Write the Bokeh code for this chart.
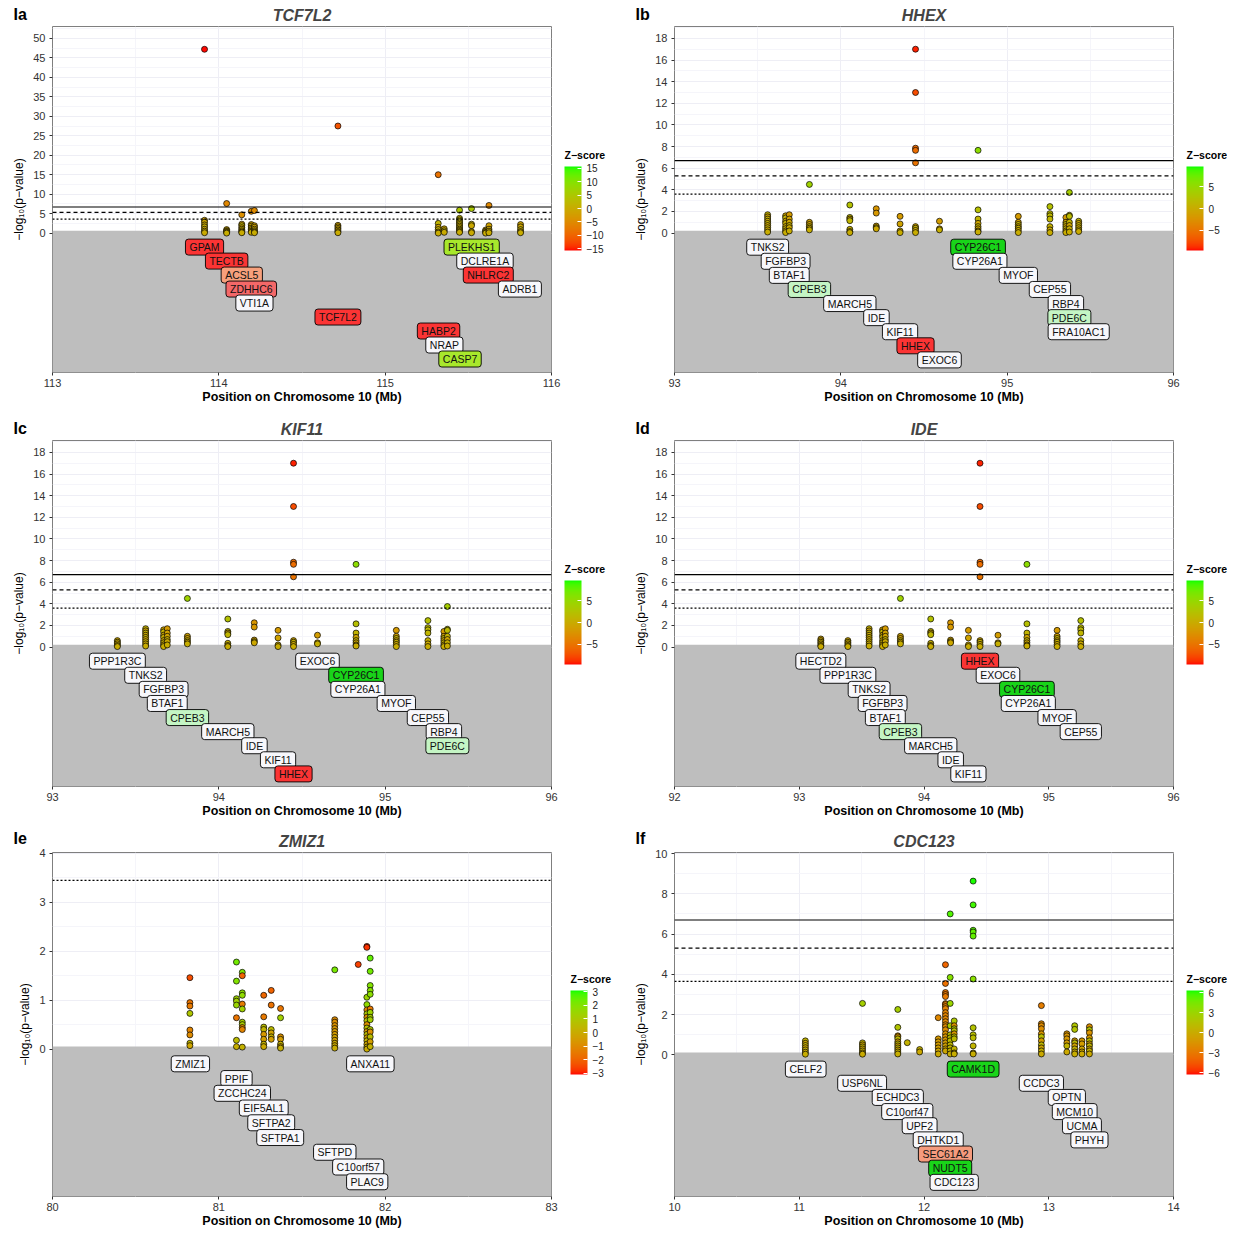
import numpy as np
from bokeh.plotting import figure
from bokeh.models import (ColumnDataSource, Range1d, LinearColorMapper, ColorBar, FixedTicker,
                          Span, BoxAnnotation)
from bokeh.layouts import gridplot
from bokeh.transform import transform
from bokeh.core.properties import value
from bokeh.embed import file_html
from bokeh.resources import INLINE

FONT = "Liberation Sans"
REF_H = 350      # frame height the geometry ratios were measured on
FRAME_H = 346    # frame height actually used

# ------------------------------------------------------------------ data
# Panel Ia : TCF7L2 locus (SNP columns, -log10 p, z)
tcf7l2_snp_pos = [113.914, 114.047, 114.138, 114.195, 114.214, 114.716, 115.319, 115.355,
                  115.447, 115.519, 115.604, 115.624, 115.814]
tcf7l2_logp = [[47.2, 3.3, 2.8, 2.1, 1.6, 1.0, 0.5, 0.1],
               [7.6, 0.9, 0.6, 0.4, 0.2, 0.0],
               [4.7, 2.3, 1.9, 1.4, 1.0, 0.6, 0.3, 0.1],
               [5.6, 2.2, 1.8, 1.3, 0.9, 0.5, 0.2],
               [5.8, 1.9, 1.5, 1.0, 0.6, 0.3, 0.1],
               [27.5, 2.0, 1.6, 1.2, 0.8, 0.4, 0.1],
               [15.0, 2.5, 1.5, 0.9, 0.3, 0.0],
               [1.1, 0.6, 0.2],
               [5.9, 3.8, 3.4, 3.0, 2.6, 2.2, 1.8, 1.4, 1.0, 0.7, 0.4, 0.2],
               [6.3, 2.3, 1.9, 0.4, 0.1],
               [0.8, 0.5, 0.2, 0.0],
               [7.1, 1.9, 1.0, 0.5, 0.1],
               [2.2, 1.6, 0.9, 0.4, 0.1]]
tcf7l2_z = [[-15.4, -1.5, -1.0, -0.6, 0.3, -0.5, 0.2, -0.3],
            [-5.6, -0.8, -0.4, 0.1, -0.2, 0.3],
            [-4.4, -1.5, 1.0, -0.9, 0.5, -0.3, 0.2, -0.1],
            [-4.9, -1.2, -0.8, 0.4, -0.6, 0.2, -0.2],
            [-5.0, -1.4, -1.0, -0.6, 0.3, -0.2, 0.1],
            [-11.5, -1.3, -1.0, -0.8, -0.5, -0.3, -0.1],
            [-8.2, 1.4, -0.9, 0.6, -0.3, 0.1],
            [-0.9, 0.5, -0.2],
            [4.9, 1.5, 1.2, 1.0, 0.8, 0.6, -0.4, 0.5, 0.3, -0.2, 0.4, 0.1],
            [5.2, 1.1, -0.6, 0.3, -0.2],
            [-0.8, -0.5, 0.2, -0.1],
            [-5.4, -1.5, -0.8, -0.3, 0.1],
            [-1.2, -0.9, 0.6, -0.4, 0.2]]
tcf7l2_genes = ["GPAM", "TECTB", "ACSL5", "ZDHHC6", "VTI1A", "TCF7L2", "HABP2", "NRAP", "CASP7",
                "PLEKHS1", "DCLRE1A", "NHLRC2", "ADRB1"]
tcf7l2_gene_pos = [113.914, 114.047, 114.138, 114.195, 114.214, 114.716, 115.321, 115.356, 115.45,
                   115.52, 115.60, 115.62, 115.81]
tcf7l2_gene_row = [1, 2, 3, 4, 5, 6, 7, 8, 9, 1, 2, 3, 4]
tcf7l2_gene_fill = ["#fb3434", "#fb3434", "#f7a07c", "#f46868", "#f7f7fb", "#fb3434", "#fb3434",
                    "#f7f7fb", "#a8e82c", "#a8e82c", "#f7f7fb", "#fb3434", "#f7f7fb"]

# Panels Ib-Id : shared chr10 93-96 Mb locus
hhex_locus_pos = [93.173, 93.39, 93.56, 93.668, 93.69, 93.811, 94.054, 94.213, 94.356, 94.449,
                  94.593, 94.825, 95.067, 95.257, 95.353, 95.374, 95.43]
hhex_locus_logp = [[0.75, 0.6, 0.45, 0.3, 0.15, 0.05],
                   [0.6, 0.45, 0.3, 0.15, 0.05],
                   [1.7, 1.5, 1.3, 1.1, 0.9, 0.7, 0.5, 0.3, 0.1],
                   [1.6, 1.4, 1.1, 0.9, 0.6, 0.4, 0.2, 0.05],
                   [1.7, 1.3, 1.0, 0.7, 0.5, 0.2],
                   [4.5, 1.0, 0.8, 0.6, 0.45, 0.3],
                   [2.6, 1.45, 1.3, 1.15, 0.35, 0.15, 0.05],
                   [2.25, 1.85, 0.65, 0.5, 0.4],
                   [1.55, 0.85, 0.2, 0.05],
                   [17.0, 13.0, 7.85, 7.65, 6.5, 0.6, 0.45, 0.25, 0.05],
                   [1.1, 0.4, 0.3],
                   [7.65, 2.15, 1.3, 0.9, 0.6, 0.4, 0.2, 0.1],
                   [1.55, 1.0, 0.8, 0.6, 0.45, 0.25, 0.05],
                   [2.45, 1.8, 1.6, 1.3, 0.6, 0.3, 0.05],
                   [1.45, 1.0, 0.8, 0.6, 0.4, 0.2, 0.05],
                   [3.75, 1.65, 1.55, 1.0, 0.7, 0.4, 0.1],
                   [1.1, 0.9, 0.7, 0.5, 0.3, 0.15]]
hhex_locus_z = [[-0.8, -0.6, 0.3, -0.4, 0.2, -0.1],
                [-0.5, 0.3, -0.3, 0.2, 0.1],
                [0.5, -0.8, 0.6, -0.3, 0.4, -0.5, 0.2, -0.2, 0.1],
                [-0.6, 0.7, -0.4, 0.3, -0.5, 0.2, -0.3, 0.1],
                [-1.6, -1.0, -0.7, 0.4, -0.3, 0.1],
                [4.3, -0.9, -1.0, 0.4, -0.5, 0.2],
                [2.3, 1.2, -0.9, 1.0, 0.3, -0.2, 0.1],
                [-2.1, -1.9, -0.8, 0.5, -0.4],
                [-1.7, -0.9, -0.3, 0.1],
                [-9.2, -7.6, -5.7, -5.6, -5.1, -0.6, 0.4, -0.2, 0.1],
                [-1.4, -0.6, 0.3],
                [5.6, 2.1, 0.9, -0.7, 0.5, -0.4, 0.2, 0.1],
                [-1.7, -1.0, 0.7, -0.6, 0.4, -0.3, 0.1],
                [2.2, 1.5, 1.3, 1.0, 0.6, -0.3, 0.1],
                [-1.6, -0.9, 0.7, -0.5, 0.4, -0.2, 0.1],
                [3.7, 1.7, 1.6, 0.8, -0.6, 0.3, 0.1],
                [0.8, -0.7, 0.5, -0.4, 0.3, -0.1]]
hhex_locus_genes = ["HECTD2", "PPP1R3C", "TNKS2", "FGFBP3", "BTAF1", "CPEB3", "MARCH5", "IDE", "KIF11",
                    "HHEX", "EXOC6", "CYP26C1", "CYP26A1", "MYOF", "CEP55", "RBP4", "PDE6C", "FRA10AC1"]
hhex_locus_gene_pos = [93.173, 93.39, 93.56, 93.668, 93.69, 93.811, 94.054, 94.214, 94.356, 94.449,
                       94.593, 94.825, 94.836, 95.067, 95.257, 95.353, 95.374, 95.43]
hhex_locus_gene_fill = ["#f7f7fb", "#f7f7fb", "#f7f7fb", "#f7f7fb", "#f7f7fb", "#c4f5c4", "#f7f7fb",
                        "#f7f7fb", "#f7f7fb", "#fb3434", "#f7f7fb", "#19d419", "#f7f7fb", "#f7f7fb",
                        "#f7f7fb", "#f7f7fb", "#c4f5c4", "#f7f7fb"]

# Ib HHEX
hhex_snp_cols = [93.56, 93.668, 93.69, 93.811, 94.054, 94.213, 94.356, 94.449, 94.593, 94.825,
                 95.067, 95.257, 95.353, 95.374, 95.43]
hhex_genes = ["TNKS2", "FGFBP3", "BTAF1", "CPEB3", "MARCH5", "IDE", "KIF11", "HHEX", "EXOC6",
              "CYP26C1", "CYP26A1", "MYOF", "CEP55", "RBP4", "PDE6C", "FRA10AC1"]
hhex_gene_row = [1, 2, 3, 4, 5, 6, 7, 8, 9, 1, 2, 3, 4, 5, 6, 7]
# Ic KIF11
kif11_snp_cols = [93.39, 93.56, 93.668, 93.69, 93.811, 94.054, 94.213, 94.356, 94.449, 94.593,
                  94.825, 95.067, 95.257, 95.353, 95.374]
kif11_genes = ["PPP1R3C", "TNKS2", "FGFBP3", "BTAF1", "CPEB3", "MARCH5", "IDE", "KIF11", "HHEX",
               "EXOC6", "CYP26C1", "CYP26A1", "MYOF", "CEP55", "RBP4", "PDE6C"]
kif11_gene_row = [1, 2, 3, 4, 5, 6, 7, 8, 9, 1, 2, 3, 4, 5, 6, 7]
# Id IDE
ide_snp_cols = [93.173, 93.39, 93.56, 93.668, 93.69, 93.811, 94.054, 94.213, 94.356, 94.449,
                94.593, 94.825, 95.067, 95.257]
ide_genes = ["HECTD2", "PPP1R3C", "TNKS2", "FGFBP3", "BTAF1", "CPEB3", "MARCH5", "IDE", "KIF11",
             "HHEX", "EXOC6", "CYP26C1", "CYP26A1", "MYOF", "CEP55"]
ide_gene_row = [1, 2, 3, 4, 5, 6, 7, 8, 9, 1, 2, 3, 4, 5, 6]

# Ie ZMIZ1
zmiz1_snp_pos = [80.826, 81.106, 81.141, 81.27, 81.315, 81.371, 81.697, 81.838, 81.89, 81.91]
zmiz1_logp = [[1.46, 0.95, 0.88, 0.73, 0.39, 0.29, 0.12, 0.07],
              [1.78, 1.39, 1.03, 0.98, 0.9, 0.64, 0.18, 0.05],
              [1.57, 1.5, 1.15, 1.1, 0.92, 0.82, 0.55, 0.5, 0.44, 0.4, 0.04],
              [1.1, 0.66, 0.45, 0.4, 0.3, 0.2, 0.1, 0.05],
              [1.2, 0.9, 0.4, 0.33, 0.25, 0.2],
              [0.83, 0.64, 0.25, 0.2, 0.1, 0.05, 0.02],
              [1.62, 0.6, 0.55, 0.48, 0.42, 0.36, 0.3, 0.24, 0.18, 0.12, 0.07, 0.02],
              [1.73],
              [2.1, 2.08, 1.06, 0.91, 0.8, 0.72, 0.65, 0.58, 0.5, 0.43, 0.36, 0.3, 0.23, 0.17, 0.1, 0.04, 0.0],
              [1.86, 1.59, 1.3, 1.2, 1.12, 0.82, 0.75, 0.65, 0.6, 0.4, 0.35, 0.25, 0.15, 0.05]]
zmiz1_z = [[-2.4, -1.6, -1.5, 0.9, -1.2, -1.0, 0.3, -0.2],
           [2.3, 2.0, 1.4, 1.3, 1.5, -1.6, 0.5, 0.1],
           [2.1, -2.0, 1.8, 1.7, -1.4, 1.3, 1.2, 1.1, -1.0, -1.2, 0.2],
           [-1.9, -1.5, 0.6, 0.3, -0.6, -0.4, 0.2, -0.1],
           [-2.0, -1.7, 0.5, -0.3, 0.2, -0.4],
           [-1.6, 1.3, -0.8, -0.5, 0.2, -0.3, 0.1],
           [2.2, -1.0, -0.9, -0.8, -0.7, -0.6, -0.5, -0.3, -0.4, -0.2, -0.1, 0.0],
           [-2.6],
           [-2.9, -2.8, 1.5, 1.7, -1.1, 1.0, -0.9, 0.9, -0.8, 0.7, -0.6, 0.5, -0.4, 0.3, -0.2, 0.1, 0.0],
           [2.5, 2.3, 2.0, 1.9, 1.8, -1.5, 1.4, 1.2, 1.2, 1.0, -0.8, 0.6, -0.4, 0.2]]
zmiz1_genes = ["ZMIZ1", "PPIF", "ZCCHC24", "EIF5AL1", "SFTPA2", "SFTPA1", "SFTPD", "C10orf57",
               "PLAC9", "ANXA11"]
zmiz1_gene_pos = [80.829, 81.106, 81.141, 81.27, 81.315, 81.369, 81.697, 81.838, 81.892, 81.911]
zmiz1_gene_row = [1, 2, 3, 4, 5, 6, 7, 8, 9, 1]
zmiz1_gene_fill = ["#f7f7fb"] * 10

# If CDC123
cdc123_snp_pos = [11.049, 11.507, 11.79, 11.866, 11.965, 12.114, 12.172, 12.21, 12.242, 12.394,
                  12.941, 13.145, 13.208, 13.266, 13.326]
cdc123_logp = [[0.7, 0.58, 0.47, 0.36, 0.25, 0.14, 0.04],
               [2.56, 0.6, 0.5, 0.4, 0.3, 0.2, 0.1, 0.04],
               [2.26, 1.37, 0.95, 0.9, 0.8, 0.65, 0.55, 0.45, 0.35, 0.25, 0.15, 0.05],
               [0.61],
               [0.27, 0.15],
               [1.85, 0.8, 0.65, 0.5, 0.35, 0.2, 0.05],
               [4.48, 3.55, 3.1, 3.0, 2.9, 2.55, 2.5, 2.4, 2.3, 2.1, 1.95, 1.8, 1.65, 1.5, 1.4, 1.25,
                1.05, 0.9, 0.75, 0.6, 0.45, 0.3, 0.2],
               [7.0, 3.85, 2.56, 1.45, 1.0, 0.85, 0.7, 0.5, 0.35, 0.2, 0.05],
               [1.69, 1.45, 1.3, 1.2, 1.05, 0.9, 0.8, 0.3, 0.1, 0.05],
               [8.63, 7.45, 6.19, 6.1, 5.9, 3.77, 1.35, 1.0, 0.85, 0.45, 0.1, 0.05],
               [2.45, 1.55, 1.45, 1.3, 1.05, 0.9, 0.7, 0.5, 0.35, 0.2, 0.05],
               [1.05, 0.95, 0.8, 0.6, 0.45, 0.15],
               [1.45, 1.27, 0.7, 0.6, 0.45, 0.3, 0.15, 0.05],
               [0.7, 0.55, 0.3, 0.15, 0.05],
               [1.4, 1.25, 1.1, 0.85, 0.7, 0.55, 0.45, 0.3, 0.2, 0.05]]
cdc123_z = [[0.5, -0.4, 0.3, -0.3, 0.2, -0.1, 0.1],
            [2.5, 0.4, -0.3, 0.3, -0.2, 0.2, -0.1, 0.0],
            [2.4, 1.7, -1.4, -1.3, 0.9, -0.8, 0.7, -0.6, 0.5, -0.4, 0.3, 0.1],
            [0.4],
            [0.3, -0.2],
            [-2.2, -1.2, -1.0, -0.9, -0.7, -0.5, -0.2],
            [-3.9, -3.4, -3.2, -3.1, -3.0, -2.8, -2.8, -2.7, -2.6, -2.5, -2.4, -2.3, -2.2, -2.1,
             -2.0, -1.9, -1.6, -1.4, -1.2, -1.0, -0.7, -0.5, -0.3],
            [5.5, 3.9, 3.0, 2.2, 1.4, 1.2, 1.0, 0.8, 0.6, 0.4, 0.1],
            [1.9, -1.7, 1.5, 1.5, -1.3, 1.2, 1.1, 0.5, -0.2, 0.1],
            [6.2, 5.8, 5.3, 5.2, 5.1, 3.8, 1.6, 1.3, 1.2, 0.6, 0.2, 0.1],
            [-2.8, -2.1, -2.0, -1.9, -1.4, 1.2, -1.0, 0.8, -0.6, 0.3, -0.1],
            [-1.5, -1.4, -1.2, -0.9, 0.6, -0.2],
            [1.8, 1.7, -0.9, 0.8, -0.6, 0.4, -0.2, 0.1],
            [-1.2, -0.9, -0.5, -0.3, -0.1],
            [-1.8, 1.6, -1.5, -1.2, 1.0, -0.8, 0.6, -0.5, 0.3, -0.1]]
cdc123_genes = ["CELF2", "USP6NL", "ECHDC3", "C10orf47", "UPF2", "DHTKD1", "SEC61A2", "NUDT5",
                "CDC123", "CAMK1D", "CCDC3", "OPTN", "MCM10", "UCMA", "PHYH"]
cdc123_gene_pos = [11.052, 11.504, 11.79, 11.866, 11.965, 12.114, 12.172, 12.21, 12.242, 12.394,
                   12.941, 13.145, 13.208, 13.266, 13.326]
cdc123_gene_row = [1, 2, 3, 4, 5, 6, 7, 8, 9, 1, 2, 3, 4, 5, 6]
cdc123_gene_fill = ["#f7f7fb", "#f7f7fb", "#f7f7fb", "#f7f7fb", "#f7f7fb", "#f7f7fb", "#f59b7d",
                    "#19d419", "#f7f7fb", "#19d419", "#f7f7fb", "#f7f7fb", "#f7f7fb", "#f7f7fb",
                    "#f7f7fb"]

# significance thresholds (-log10 p)
thr_solid, thr_dashed = 6.7, 5.3
thr_dotted = {"a": 3.6, "b": 3.6, "c": 3.6, "d": 3.6, "e": 3.45, "f": 3.65}


# ------------------------------------------------------------------ colour scale (red -> green in CIELAB)
_M = np.array([[0.4124564, 0.3575761, 0.1804375],
               [0.2126729, 0.7151522, 0.0721750],
               [0.0193339, 0.1191920, 0.9503041]])
_Minv = np.linalg.inv(_M)
_WHITE = np.array([0.95047, 1.0, 1.08883])


def _f(t):
    return np.where(t > (6 / 29) ** 3, np.cbrt(t), t / (3 * (6 / 29) ** 2) + 4 / 29)


def _finv(t):
    return np.where(t > 6 / 29, t ** 3, 3 * (6 / 29) ** 2 * (t - 4 / 29))


def to_lab(rgb):
    c = np.array(rgb, float) / 255
    lin = np.where(c <= 0.04045, c / 12.92, ((c + 0.055) / 1.055) ** 2.4)
    fx, fy, fz = _f(_M @ lin / _WHITE)
    return np.array([116 * fy - 16, 500 * (fx - fy), 200 * (fy - fz)])


def from_lab(lab):
    L, a, b = lab
    fy = (L + 16) / 116
    xyz = _WHITE * _finv(np.array([fy + a / 500, fy, fy - b / 200]))
    lin = np.clip(_Minv @ xyz, 0, 1)
    c = np.where(lin <= 0.0031308, 12.92 * lin, 1.055 * lin ** (1 / 2.4) - 0.055)
    return "#%02x%02x%02x" % tuple(int(round(v * 255)) for v in np.clip(c, 0, 1))


_lo, _hi = to_lab([255, 0, 0]), to_lab([0, 255, 0])
PALETTE = [from_lab(_lo + (_hi - _lo) * t) for t in np.linspace(0, 1, 256)]


def uminus(v):
    return str(v).replace("-", "\u2212")


def free_text(p, text, x, y, size, style):
    """text placed outside the frame: the title of an invisible horizontal colour bar"""
    cb = ColorBar(color_mapper=LinearColorMapper(palette=["#ffffff"], low=0, high=1),
                  orientation="horizontal", width=2, height=1, location=(x, y),
                  title=text, title_text_font=FONT, title_text_font_style=style,
                  title_text_font_size=f"{size}px", title_text_color="black", title_standoff=0,
                  ticker=FixedTicker(ticks=[]), major_label_text_font_size="1px",
                  major_tick_line_color=None, minor_tick_line_color=None, major_tick_out=0,
                  major_tick_in=0, label_standoff=0, scale_alpha=0,
                  bar_line_color=None, border_line_color=None, background_fill_color=None,
                  background_fill_alpha=0, padding=0, margin=0)
    p.add_layout(cb)


def make_panel(letter, title, xr, xticks, y_top, zero_px, row_px, yticks, yminor, zlim, zticks,
               lines, cols_pos, cols_logp, cols_z, genes, gpos, grow, gfill,
               width, ml, fw, mt, mb):
    y_bot = -y_top * (REF_H - zero_px) / zero_px
    p = figure(width=width, height=mt + FRAME_H + mb, x_range=Range1d(xr[0], xr[1]),
               y_range=Range1d(y_bot, y_top), output_backend="svg", toolbar_location=None,
               min_border_left=ml, min_border_right=width - ml - fw,
               min_border_top=mt, min_border_bottom=mb)
    p.extra_y_ranges = {"rows": Range1d(-(REF_H - zero_px) / row_px, zero_px / row_px)}
    p.background_fill_color = "white"
    p.border_fill_color = "white"
    p.outline_line_color = "#7f7f7f"
    p.outline_line_width = 1

    p.title.text = title
    p.title.align = "center"
    p.title.text_font = FONT
    p.title.text_font_style = "bold italic"
    p.title.text_font_size = "16px"
    p.title.standoff = 6

    xminor = [x + 0.5 for x in xticks[:-1]]
    for ax, ticks, minor in ((p.xaxis[0], xticks, xminor), (p.yaxis[0], yticks, yminor)):
        ax.ticker = FixedTicker(ticks=ticks, minor_ticks=minor)
        ax.axis_line_color = None
        ax.major_tick_line_color = "#333333"
        ax.major_tick_out = 3
        ax.major_tick_in = 0
        ax.minor_tick_line_color = None
        ax.major_label_text_font = FONT
        ax.major_label_text_font_size = "11px"
        ax.major_label_text_color = "#333333"
        ax.major_label_standoff = 3
        ax.axis_label_text_font = FONT
        ax.axis_label_text_color = "black"
    p.xaxis.major_label_standoff = 2
    p.xaxis.axis_label = "Position on Chromosome 10 (Mb)"
    p.xaxis.axis_label_text_font_style = "bold"
    p.xaxis.axis_label_text_font_size = "12.5px"
    p.xaxis.axis_label_standoff = 0
    p.yaxis.axis_label = "\u2212log\u2081\u2080(p\u2212value)"
    p.yaxis.axis_label_text_font_style = "normal"
    p.yaxis.axis_label_text_font_size = "12px"
    p.yaxis.axis_label_standoff = 4

    for g, ticks, minor in ((p.xgrid[0], xticks, xminor), (p.ygrid[0], yticks, yminor)):
        g.ticker = FixedTicker(ticks=ticks, minor_ticks=minor)
        g.grid_line_color = "#eeeef5"
        g.grid_line_width = 1
        g.minor_grid_line_color = "#f5f5fa"
        g.minor_grid_line_width = 1

    # grey label area
    p.add_layout(BoxAnnotation(top=2.5 / row_px, y_range_name="rows", fill_color="#bebebe",
                               fill_alpha=1, line_color=None, level="underlay"))

    for loc, dash in lines:
        p.add_layout(Span(location=loc, dimension="width", line_color="black",
                          line_width=1.2, line_dash=dash))

    xs, ys, zs = [], [], []
    for pos, lp, zz in zip(cols_pos, cols_logp, cols_z):
        for a, b in zip(lp, zz):
            xs.append(pos)
            ys.append(a)
            zs.append(b)
    mapper = LinearColorMapper(palette=PALETTE, low=-zlim, high=zlim)
    src = ColumnDataSource(dict(x=xs, y=ys, z=zs))
    p.scatter("x", "y", source=src, size=6, fill_color=transform("z", mapper),
              line_color="black", line_width=0.7)

    gsrc = ColumnDataSource(dict(x=gpos, y=[-r for r in grow], text=genes, fill=gfill))
    p.text("x", "y", text="text", source=gsrc, y_range_name="rows",
           text_font=value(FONT), text_font_size="10.5px", text_color="#111111",
           text_align="center", text_baseline="middle",
           background_fill_color="fill", border_line_color="black", border_line_width=0.9,
           padding=(4, 2), border_radius=3)

    bar_bottom, bar_h = 122, 84
    cb = ColorBar(color_mapper=mapper, width=17, height=bar_h, location=(fw + 13, bar_bottom),
                  orientation="vertical", title=None,
                  ticker=FixedTicker(ticks=zticks),
                  major_label_overrides={t: uminus(t) for t in zticks},
                  major_label_text_font=FONT, major_label_text_font_size="10px",
                  major_label_text_color="#222222", label_standoff=5,
                  major_tick_line_color="white", major_tick_in=4, major_tick_out=0,
                  minor_tick_line_color=None, bar_line_color=None, border_line_color=None,
                  background_fill_color=None, background_fill_alpha=0, padding=0, margin=0)
    p.add_layout(cb)

    free_text(p, letter, -39, FRAME_H + 3, 16, "bold")
    free_text(p, "Z\u2212score", fw + 13, bar_bottom + bar_h + 5, 10.5, "bold")
    return p


def pick(cols):
    idx = [hhex_locus_pos.index(c) for c in cols]
    return ([hhex_locus_pos[i] for i in idx], [hhex_locus_logp[i] for i in idx],
            [hhex_locus_z[i] for i in idx])


def pick_genes(names):
    idx = [hhex_locus_genes.index(n) for n in names]
    return [hhex_locus_gene_pos[i] for i in idx], [hhex_locus_gene_fill[i] for i in idx]


L_W, R_W = 616, 611
rows3 = [(26, 38), (30, 34), (32, 32)]
lines3 = lambda k: [(thr_solid, "solid"), (thr_dashed, "4 3"), (thr_dotted[k], "2 2")]

pa = make_panel("Ia", "TCF7L2", (113, 116), [113, 114, 115, 116], 53.05, 209, 14.15,
                list(range(0, 51, 5)), [2.5 + 5 * i for i in range(11)], 15.6,
                [-15, -10, -5, 0, 5, 10, 15], lines3("a"),
                tcf7l2_snp_pos, tcf7l2_logp, tcf7l2_z, tcf7l2_genes, tcf7l2_gene_pos,
                tcf7l2_gene_row, tcf7l2_gene_fill, L_W, 52, 499, *rows3[0])

bp, bl, bz = pick(hhex_snp_cols)
bgp, bgf = pick_genes(hhex_genes)
pb = make_panel("Ib", "HHEX", (93, 96), [93, 94, 95, 96], 19.1, 209, 14.25,
                list(range(0, 19, 2)), list(range(1, 20, 2)), 9.7, [-5, 0, 5], lines3("b"),
                bp, bl, bz, hhex_genes, bgp, hhex_gene_row, bgf, R_W, 58, 499, *rows3[0])

cp, cl, cz = pick(kif11_snp_cols)
cgp, cgf = pick_genes(kif11_genes)
pc = make_panel("Ic", "KIF11", (93, 96), [93, 94, 95, 96], 19.1, 209, 14.25,
                list(range(0, 19, 2)), list(range(1, 20, 2)), 9.7, [-5, 0, 5], lines3("c"),
                cp, cl, cz, kif11_genes, cgp, kif11_gene_row, cgf, L_W, 52, 499, *rows3[1])

dp, dl, dz = pick(ide_snp_cols)
dgp, dgf = pick_genes(ide_genes)
pd_ = make_panel("Id", "IDE", (92, 96), [92, 93, 94, 95, 96], 19.1, 209, 14.25,
                 list(range(0, 19, 2)), list(range(1, 20, 2)), 9.7, [-5, 0, 5], lines3("d"),
                 dp, dl, dz, ide_genes, dgp, ide_gene_row, dgf, R_W, 58, 499, *rows3[1])

pe = make_panel("Ie", "ZMIZ1", (80, 83), [80, 81, 82, 83], 4.02, 200, 15.0,
                [0, 1, 2, 3, 4], [0.5, 1.5, 2.5, 3.5], 3.1, [-3, -2, -1, 0, 1, 2, 3],
                [(thr_dotted["e"], "2 2")],
                zmiz1_snp_pos, zmiz1_logp, zmiz1_z, zmiz1_genes, zmiz1_gene_pos,
                zmiz1_gene_row, zmiz1_gene_fill, L_W, 46, 505, *rows3[2])

pf = make_panel("If", "CDC123", (10, 14), [10, 11, 12, 13, 14], 10.05, 206, 14.4,
                list(range(0, 11, 2)), list(range(1, 11, 2)), 6.3, [-6, -3, 0, 3, 6], lines3("f"),
                cdc123_snp_pos, cdc123_logp, cdc123_z, cdc123_genes, cdc123_gene_pos,
                cdc123_gene_row, cdc123_gene_fill, R_W, 58, 499, *rows3[2])

grid = gridplot([[pa, pb], [pc, pd_], [pe, pf]], toolbar_location=None)
open("out.html", "w").write(file_html(grid, INLINE))
